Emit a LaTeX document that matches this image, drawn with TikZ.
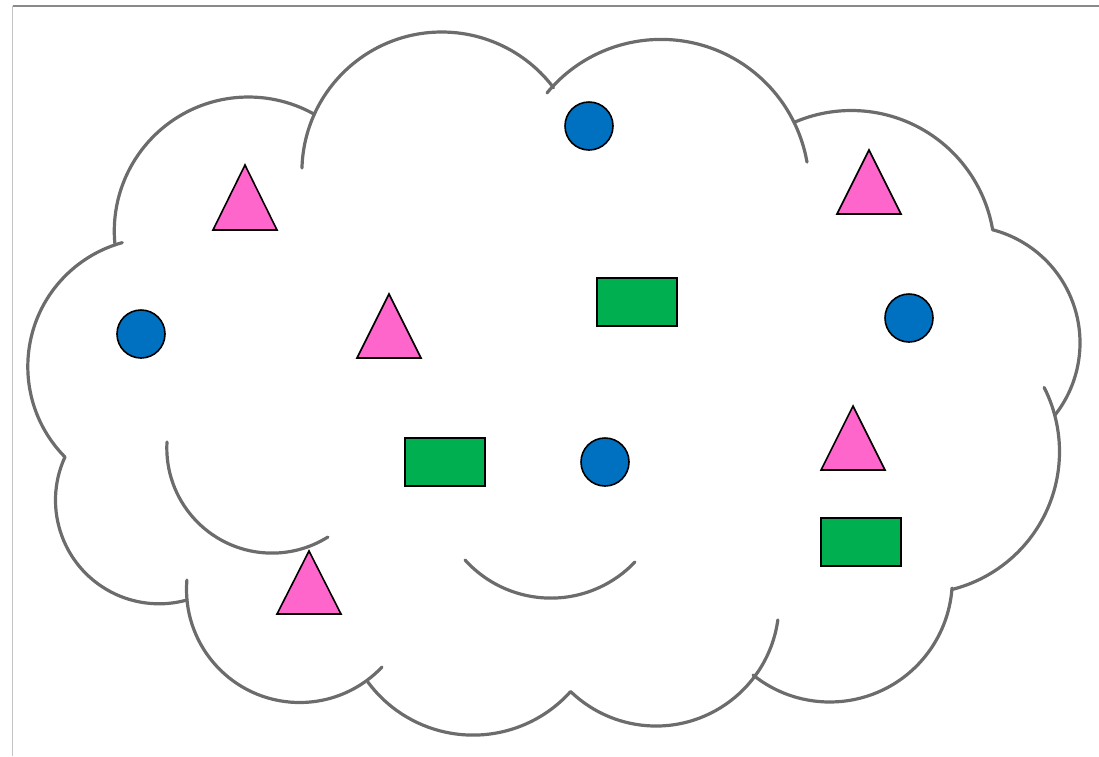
\documentclass[tikz,border=0pt]{standalone}
\usepackage{tikz}
\definecolor{nuagegris}{HTML}{6C6C6C}
\definecolor{cadregris}{HTML}{8A8A8A}
\definecolor{cadreclair}{HTML}{C4C4C4}
\definecolor{formerose}{HTML}{FF66CC}
\definecolor{formebleu}{HTML}{0070C0}
\definecolor{formevert}{HTML}{00B050}
\begin{document}
\begin{tikzpicture}[x=1pt,y=-1pt,
    nuage/.style={draw=nuagegris,line width=3.2pt,line cap=round},
    forme/.style={draw=black,line width=1.6pt,line join=miter}]
    \useasboundingbox (0,0) rectangle (1099,756);
    % cadre, seulement haut et gauche
    \draw[cadregris,line width=1.4pt]  (12.5,6) -- (1099,6);
    \draw[cadreclair,line width=1.2pt] (12.5,6) -- (12.5,756);
    % contour du nuage, un arc de cercle par lobe
    \draw[nuage] (156.4,366.6) ++(135.3:128.6) arc[start angle=135.3,end angle=254.6,radius=128.6];
    \draw[nuage] (248.5,231.2) ++(174.1:134.2) arc[start angle=174.1,end angle=299.5,radius=134.2];
    \draw[nuage] (441.8,171.9) ++(181.6:139.9) arc[start angle=181.6,end angle=323,radius=139.9];
    \draw[nuage] (661,187.6)   ++(219.7:148.2) arc[start angle=219.7,end angle=350.1,radius=148.2];
    \draw[nuage] (851.3,253.9) ++(246.9:143.4) arc[start angle=246.9,end angle=350.4,radius=143.4];
    \draw[nuage] (963.2,342.8) ++(284.8:116.8) arc[start angle=284.8,end angle=398.2,radius=116.8];
    \draw[nuage] (917.5,451.7) ++(-26.9:142)   arc[start angle=-26.9,end angle=75.8,radius=142];
    \draw[nuage] (829.8,579.5) ++(128.8:122.5) arc[start angle=128.8,end angle=4,radius=122.5];
    \draw[nuage] (656,603)     ++(7.9:123)     arc[start angle=7.9,end angle=134,radius=123];
    \draw[nuage] (473.1,604.2) ++(42.2:130.9)  arc[start angle=42.2,end angle=143.5,radius=130.9];
    \draw[nuage] (299.7,589.3) ++(184.7:113.2) arc[start angle=184.7,end angle=43.4,radius=113.2];
    \draw[nuage] (159.1,500.2) ++(204.7:103.6) arc[start angle=204.7,end angle=74.4,radius=103.6];
    % arcs interieurs
    \draw[nuage] (272,447.9)   ++(183.2:105.2) arc[start angle=183.2,end angle=57.9,radius=105.2];
    \draw[nuage] (550.9,482.3) ++(137.9:115.8) arc[start angle=137.9,end angle=43.5,radius=115.8];
    % triangles roses
    \filldraw[forme,fill=formerose] (245,165) -- (277,230) -- (213,230) -- cycle;
    \filldraw[forme,fill=formerose] (389,294) -- (421,358) -- (357,358) -- cycle;
    \filldraw[forme,fill=formerose] (869,150) -- (901,214) -- (837,214) -- cycle;
    \filldraw[forme,fill=formerose] (853,406) -- (885,470) -- (821,470) -- cycle;
    \filldraw[forme,fill=formerose] (309,551) -- (341,614) -- (277,614) -- cycle;
    % ronds bleus
    \filldraw[forme,fill=formebleu] (589,126) circle (24);
    \filldraw[forme,fill=formebleu] (141,334) circle (24);
    \filldraw[forme,fill=formebleu] (909,318) circle (24);
    \filldraw[forme,fill=formebleu] (605,462) circle (24);
    % rectangles verts
    \filldraw[forme,fill=formevert] (597,278) rectangle (677,326);
    \filldraw[forme,fill=formevert] (405,438) rectangle (485,486);
    \filldraw[forme,fill=formevert] (821,518) rectangle (901,566);
\end{tikzpicture}
\end{document}
